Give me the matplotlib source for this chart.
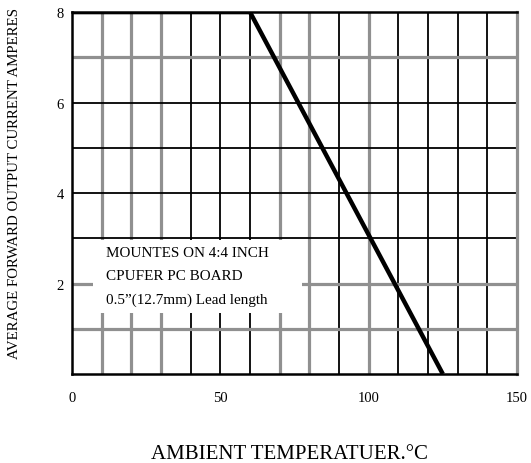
import matplotlib
matplotlib.use('Agg')
import matplotlib.pyplot as plt
from matplotlib.patches import Rectangle

plt.rcParams['font.family'] = ['Liberation Serif', 'DejaVu Serif']

# derating curve
temp = [0, 60, 125]
current = [8, 8, 0]

# grid lines: gray (thick) and black (thin)
x_gray = [10, 20, 30, 70, 80, 100]
x_black = [40, 50, 60, 90, 110, 120, 130, 140]
y_gray = [1, 2, 7]
y_black = [3, 4, 5, 6]

x_ticks = [0, 50, 100, 150]
y_ticks = [2, 4, 6, 8]

note = ['MOUNTES ON 4:4 INCH', 'CPUFER PC BOARD', '0.5\u201d(12.7mm) Lead length']

fig = plt.figure(figsize=(5.31, 4.64), dpi=100)
ax = fig.add_axes([0.1356, 0.1918, 0.838, 0.780])
ax.set_xlim(0, 150)
ax.set_ylim(0, 8)

for x in x_gray:
    ax.axvline(x, color='#909090', lw=2.3, zorder=1)
for x in x_black:
    ax.axvline(x, color='black', lw=1.3, zorder=1)
for y in y_gray:
    ax.axhline(y, color='#909090', lw=2.3, zorder=1)
for y in y_black:
    ax.axhline(y, color='black', lw=1.3, zorder=1)

# white box for the note
ax.add_patch(Rectangle((7.1, 1.35), 70.4, 1.62, facecolor='white', edgecolor='none', zorder=2))
for i, line in enumerate(note):
    ax.text(11.5, 2.68 - i * 0.51, line, fontsize=10.9, va='center', ha='left', zorder=3)

ax.plot(temp, current, color='black', lw=3.2, zorder=4, solid_capstyle='butt')

for side in ['left', 'bottom', 'top']:
    ax.spines[side].set_color('black')
    ax.spines[side].set_linewidth(1.8)
ax.spines['right'].set_color('#909090')
ax.spines['right'].set_linewidth(2.3)

ax.set_xticks(x_ticks)
ax.set_yticks(y_ticks)
ax.tick_params(length=0, labelsize=10.5)
ax.tick_params(axis='x', pad=12)
ax.tick_params(axis='y', pad=6)

fig.text(0.546, 0.02, 'AMBIENT TEMPERATUER.\u00b0C', fontsize=15, ha='center', va='center')
fig.text(0.027, 0.605, 'AVERAGE FORWARD OUTPUT CURRENT AMPERES', fontsize=10.7,
         rotation=90, ha='center', va='center')

fig.savefig('out.png', dpi=100)
